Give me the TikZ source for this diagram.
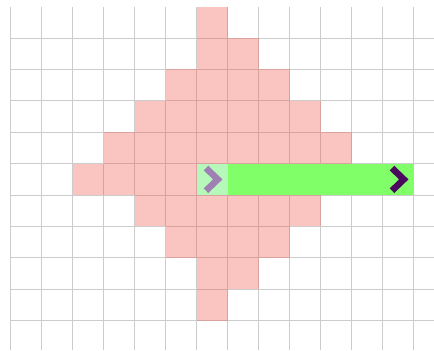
\documentclass[tikz,border=0pt]{standalone}
\usepackage{tikz}
\usetikzlibrary{positioning}

\definecolor{gridgray}{RGB}{204,204,204}
\definecolor{rangered}{RGB}{240,85,75}
\definecolor{pathgreen}{RGB}{128,255,104}
\definecolor{startgreen}{RGB}{182,248,186}
\definecolor{startmark}{RGB}{160,128,180}
\definecolor{goalmark}{RGB}{74,10,94}

\begin{document}
\begin{tikzpicture}[x=31pt, y=-31.4pt,
    gridline/.style={draw=gridgray, line width=1pt},
    reachcell/.style={fill=rangered, fill opacity=0.35},
    routecell/.style={fill=pathgreen},
    startcell/.style={fill=startgreen},
    chevron/.style={line width=6.5pt, line join=miter}]
  \useasboundingbox (-0.345,-0.213) rectangle (13.655,10.965);

  % Grid
  \foreach \x in {0,...,13}
    \draw[gridline] (\x,0) -- (\x,10.93);
  \foreach \y in {1,...,10}
    \draw[gridline] (0,\y) -- (13.655,\y);

  % Reachable cells, one row at a time
  \foreach \r/\a/\b in {0/6/6, 1/6/7, 2/5/8, 3/4/9, 4/3/10, 5/2/5, 6/4/9, 7/5/8, 8/6/7, 9/6/6}
    \fill[reachcell] (\a,\r) rectangle (\b+1,\r+1);

  % Path
  \fill[startcell] (6,5) rectangle (7,6);
  \fill[routecell] (7,5) rectangle (13,6);

  \coordinate (start) at (6.5,5.5);
  \coordinate (goal) at (12.5,5.5);

  % Direction marks
  \draw[chevron, startmark] ([shift={(-0.2,-0.36)}]start) -- ([shift={(0.18,0)}]start) -- ([shift={(-0.2,0.36)}]start);
  \draw[chevron, goalmark] ([shift={(-0.2,-0.36)}]goal) -- ([shift={(0.18,0)}]goal) -- ([shift={(-0.2,0.36)}]goal);
\end{tikzpicture}
\end{document}
